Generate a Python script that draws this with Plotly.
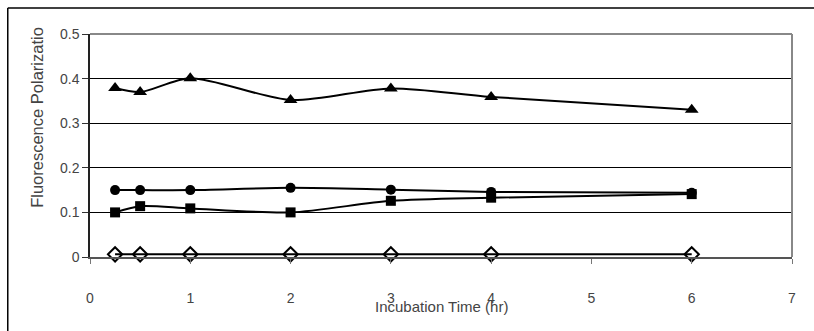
import plotly.graph_objects as go

time_hr = [0.25, 0.5, 1, 2, 3, 4, 6]
fp_triangle = [0.379, 0.370, 0.401, 0.352, 0.378, 0.359, 0.330]
fp_circle = [0.150, 0.150, 0.150, 0.155, 0.151, 0.146, 0.144]
fp_square = [0.100, 0.114, 0.109, 0.100, 0.126, 0.133, 0.141]
fp_diamond = [0.006, 0.006, 0.006, 0.006, 0.006, 0.006, 0.006]

x_ticks = [0, 1, 2, 3, 4, 5, 6, 7]
y_ticks = [0, 0.1, 0.2, 0.3, 0.4, 0.5]
y_tick_text = ["0", "0.1", "0.2", "0.3", "0.4", "0.5"]

FONT = "Liberation Sans, Arial, sans-serif"

fig = go.Figure()
series = [
    (fp_triangle, "triangle-up", 12, "black"),
    (fp_circle, "circle", 10, "black"),
    (fp_square, "square", 10, "black"),
    (fp_diamond, "diamond-open", 11, "black"),
]
for ys, sym, sz, col in series:
    fig.add_trace(go.Scatter(
        x=time_hr, y=ys, mode="lines+markers",
        line=dict(color="black", width=2, shape="spline", smoothing=0.8),
        marker=dict(symbol=sym, size=sz, color=col,
                    line=dict(color="black", width=2 if "open" in sym else 0)),
        showlegend=False, cliponaxis=False,
    ))

fig.update_layout(
    width=814, height=331,
    margin=dict(l=90, r=22, t=34, b=74),
    paper_bgcolor="white", plot_bgcolor="white",
    font=dict(family=FONT, size=14, color="#444"),
    xaxis=dict(range=[0, 7], tickvals=x_ticks, showgrid=False, zeroline=False,
               showline=True, linecolor="#555", linewidth=1.5,
               ticks="outside", ticklen=5, tickcolor="#777",
               tickfont=dict(family=FONT, size=14, color="#444"),
               ticklabelstandoff=22),
    yaxis=dict(range=[0, 0.5], tickvals=y_ticks, ticktext=y_tick_text,
               showgrid=True, gridcolor="black", gridwidth=1,
               zeroline=False, showline=True, linecolor="#222", linewidth=1.5,
               ticks="outside", ticklen=6, tickcolor="#333",
               tickfont=dict(family=FONT, size=14, color="#444")),
    shapes=[
        dict(type="line", xref="paper", yref="paper", x0=0, x1=1, y0=1, y1=1,
             line=dict(color="#888", width=2)),
        dict(type="line", xref="paper", yref="paper", x0=1, x1=1, y0=0, y1=1,
             line=dict(color="#888", width=2)),
        dict(type="line", xref="paper", yref="paper",
             x0=(8 - 90) / 700, x1=1.2, y0=(257 - 8) / 223, y1=(257 - 8) / 223,
             line=dict(color="black", width=1.5)),
        dict(type="line", xref="paper", yref="paper",
             x0=(8 - 90) / 700, x1=(8 - 90) / 700, y0=-0.5, y1=(257 - 8) / 223,
             line=dict(color="black", width=1.5)),
    ],
    annotations=[
        dict(text="Incubation Time (hr)", xref="paper", yref="paper",
             x=(440 - 90) / 700, y=(257 - 306) / 223, showarrow=False,
             xanchor="center", yanchor="middle",
             font=dict(family=FONT, size=15, color="#444")),
        dict(text="Fluorescence Polarizatio", xref="paper", yref="paper",
             x=(37 - 90) / 700, y=(257 - 117) / 223, textangle=-90,
             showarrow=False, xanchor="center", yanchor="middle",
             font=dict(family=FONT, size=16.5, color="#444")),
    ],
)

fig.write_html("out.html")
